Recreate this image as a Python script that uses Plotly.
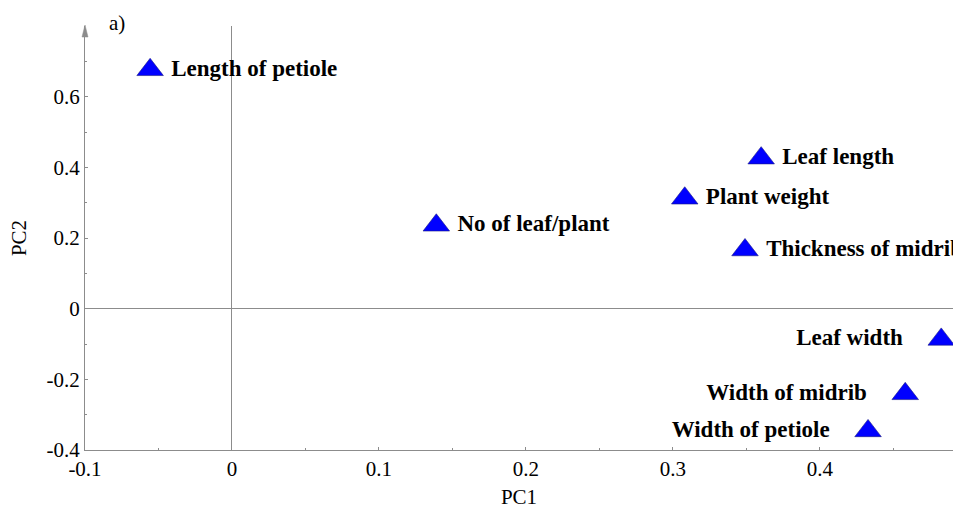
import plotly.graph_objects as go

# ---- data ----
variables = ["Length of petiole", "Leaf length", "Plant weight", "Thickness of midrib",
             "No of leaf/plant", "Leaf width", "Width of midrib", "Width of petiole"]
pc1 = [-0.0557, 0.360, 0.308, 0.349, 0.139, 0.4825, 0.458, 0.4327]
pc2 = [0.676, 0.426, 0.3125, 0.166, 0.236, -0.087, -0.241, -0.346]
label_side = ["right", "right", "right", "right", "right", "left", "left", "left"]

x_tickvals = [-0.1, 0, 0.1, 0.2, 0.3, 0.4]
x_ticktext = ["-0.1", "0", "0.1", "0.2", "0.3", "0.4"]
y_tickvals = [-0.4, -0.2, 0, 0.2, 0.4, 0.6]
y_ticktext = ["-0.4", "-0.2", "0", "0.2", "0.4", "0.6"]

NB = "\u00a0"
texts = []
for name, side in zip(variables, label_side):
    if side == "right":
        texts.append(NB + name)
    else:
        texts.append(name + NB * 4)
positions = ["middle " + s for s in label_side]

FONT = "Liberation Serif, Times New Roman, serif"
AX = "#8c8c8c"

fig = go.Figure()
fig.add_trace(go.Scatter(
    x=pc1, y=pc2, mode="markers+text",
    text=texts, textposition=positions,
    textfont=dict(family=FONT, size=23, color="black", weight="bold"),
    marker=dict(symbol="triangle-up", size=23, color="#0000ff",
                line=dict(color="#1a1a80", width=0.6)),
    cliponaxis=True, showlegend=False, hoverinfo="skip",
))

axis_common = dict(
    showgrid=False, zeroline=True, zerolinecolor=AX, zerolinewidth=1,
    showline=True, linecolor=AX, linewidth=1,
    ticks="inside", ticklen=3, tickcolor=AX, tickwidth=1,
    tickfont=dict(family=FONT, size=21, color="black"),
    title_font=dict(family=FONT, size=21, color="black"),
)

fig.update_xaxes(range=[-0.1, 0.4905], tickvals=x_tickvals, ticktext=x_ticktext,
                 minor=dict(dtick=0.05, ticks="inside", ticklen=2, tickcolor=AX),
                 title_text="PC1", title_standoff=9, **axis_common)
fig.update_yaxes(range=[-0.4, 0.80], tickvals=y_tickvals, ticktext=y_ticktext,
                 minor=dict(dtick=0.1, ticks="inside", ticklen=2, tickcolor=AX),
                 title_text="PC2", title_standoff=14, **axis_common)

# arrow head on top of y axis
fig.add_shape(type="path", xref="paper", yref="paper", xsizemode="pixel", ysizemode="pixel",
              xanchor=0, yanchor=1, path="M0,1 L-3,-11 L3,-11 Z",
              fillcolor=AX, line=dict(color=AX, width=0.5), layer="above")

fig.add_annotation(text="a)", xref="paper", yref="paper", x=0.025, y=1.006,
                   xanchor="left", yanchor="middle", showarrow=False,
                   font=dict(family=FONT, size=21, color="black"))

fig.update_layout(
    width=954, height=514,
    margin=dict(l=85, r=1, t=26, b=64),
    plot_bgcolor="white", paper_bgcolor="white",
)

fig.write_html("out.html", config={"displayModeBar": False},
               post_script="document.body.style.margin='0px';document.body.style.overflow='hidden';")
